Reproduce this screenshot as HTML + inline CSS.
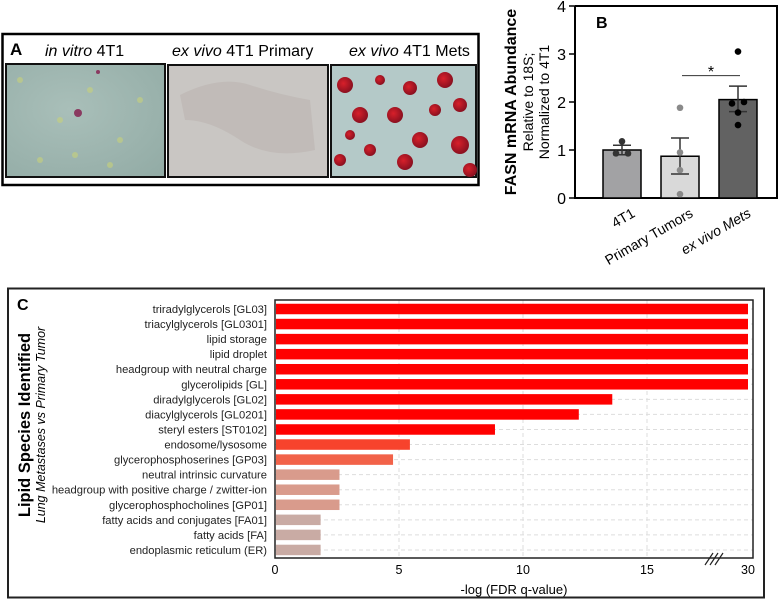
<!DOCTYPE html>
<html><head><meta charset="utf-8"><style>
body{margin:0;width:778px;height:608px;background:#fff;font-family:"Liberation Sans",sans-serif;overflow:hidden;position:relative}
</style></head><body>
<svg width="778" height="608" style="position:absolute;left:0;top:0" font-family="Liberation Sans, sans-serif">
<!-- Panel A -->
<g>
<rect x="2.5" y="34" width="476" height="151" fill="none" stroke="#000" stroke-width="2.5"/>
<text x="10" y="55" font-size="17" font-weight="bold">A</text>
<text x="45" y="56" font-size="16"><tspan font-style="italic">in vitro</tspan> 4T1</text>
<text x="172" y="56" font-size="16"><tspan font-style="italic">ex vivo</tspan> 4T1 Primary</text>
<text x="349" y="56" font-size="16"><tspan font-style="italic">ex vivo</tspan> 4T1 Mets</text>
<defs>
<radialGradient id="g1" cx="0.4" cy="0.4" r="0.8"><stop offset="0" stop-color="#a9bfb9"/><stop offset="1" stop-color="#93aca6"/></radialGradient>
<radialGradient id="cell" cx="0.4" cy="0.4" r="0.6"><stop offset="0" stop-color="#d8202a"/><stop offset="1" stop-color="#8a1020"/></radialGradient>
</defs>
<rect x="6" y="64" width="159" height="113" fill="url(#g1)" stroke="#111" stroke-width="2"/>
<g fill="#c8d27a" opacity="0.6"><circle cx="20" cy="80" r="3"/><circle cx="60" cy="120" r="3"/><circle cx="90" cy="90" r="3"/><circle cx="120" cy="140" r="3"/><circle cx="40" cy="160" r="3"/><circle cx="140" cy="100" r="3"/><circle cx="110" cy="165" r="3"/><circle cx="75" cy="155" r="3"/></g>
<circle cx="78" cy="113" r="4" fill="#8a3a60"/><circle cx="98" cy="72" r="2" fill="#8a3a60"/>
<rect x="168" y="65" width="160" height="112" fill="#c9c6c3" stroke="#111" stroke-width="2"/>
<path d="M180 95 Q220 75 250 85 T310 100 L315 150 Q270 160 240 140 T185 120Z" fill="#bdb6b3" opacity="0.7"/>
<rect x="331" y="65" width="145" height="112" fill="#b4c9c8" stroke="#111" stroke-width="2"/>
<g fill="url(#cell)">
<circle cx="345" cy="85" r="8"/><circle cx="360" cy="115" r="8"/><circle cx="395" cy="115" r="8"/><circle cx="410" cy="88" r="7"/><circle cx="445" cy="80" r="8"/><circle cx="460" cy="105" r="7"/><circle cx="420" cy="140" r="8"/><circle cx="405" cy="162" r="8"/><circle cx="460" cy="145" r="9"/><circle cx="370" cy="150" r="6"/><circle cx="340" cy="160" r="6"/><circle cx="435" cy="110" r="6"/><circle cx="380" cy="80" r="5"/><circle cx="470" cy="170" r="7"/><circle cx="350" cy="135" r="5"/>
</g>
</g>
<!-- Panel B -->
<g id="panelB">
<text x="596" y="28" font-size="16" font-weight="bold">B</text>
<text transform="translate(516,102) rotate(-90)" text-anchor="middle" font-size="16" font-weight="bold">FASN mRNA Abundance</text>
<text transform="translate(533,102) rotate(-90)" text-anchor="middle" font-size="14">Relative to 18S;</text>
<text transform="translate(549,102) rotate(-90)" text-anchor="middle" font-size="14">Normalized to 4T1</text>
</g>
<!-- Panel C -->
<g id="panelC">
<rect x="8" y="288.5" width="756" height="309" fill="none" stroke="#222" stroke-width="2"/>
<text x="17" y="310" font-size="16" font-weight="bold">C</text>
<text transform="translate(30,425) rotate(-90)" text-anchor="middle" font-size="16.5" font-weight="bold">Lipid Species Identified</text>
<text transform="translate(45,425) rotate(-90)" text-anchor="middle" font-size="12.5" font-style="italic">Lung Metastases vs Primary Tumor</text>
<text x="514" y="594" text-anchor="middle" font-size="13">-log (FDR q-value)</text>
</g>
</svg>
<script>
const NS="http://www.w3.org/2000/svg";
function mk(p,t,a){const e=document.createElementNS(NS,t);for(const k in a)e.setAttribute(k,a[k]);p.appendChild(e);return e;}
// ---- Panel B data
const bGroups=["4T1","Primary Tumors","ex vivo Mets"];
const bMeans=[1.0,0.87,2.05];
const bErrHi=[1.1,1.25,2.33];
const bErrLo=[0.9,0.5,1.8];
const bPoints=[[1.18,0.93,0.93],[1.88,0.95,0.58,0.08],[3.05,2.0,1.97,1.78,1.52]];
const bTicks=[0,1,2,3,4];
const bFill=["#a2a2a4","#d9d9d9","#626262"];
const bDot=["#333","#8a8a8a","#000"];
const B=document.getElementById("panelB");
const by=v=>198-v*48;
const bx0=603,bw=38,bstep=58;
let ax=mk(B,"path",{d:"M575 6 V198 H777 V6 H575",fill:"none",stroke:"#000","stroke-width":2});


bTicks.forEach(t=>{
 let l=mk(B,"line",{x1:569,x2:575,y1:by(t),y2:by(t),stroke:"#000","stroke-width":1.5});
 
 
 let tx=mk(B,"text",{x:566,y:by(t)+6,"text-anchor":"end","font-size":16});tx.textContent=t;
 
 
});
bGroups.forEach((g,i)=>{
 const x=bx0+i*bstep;
 let r=mk(B,"rect",{x:x,y:by(bMeans[i]),width:bw,height:by(0)-by(bMeans[i]),fill:bFill[i],stroke:"#000","stroke-width":1.5});
 
 
 const cx=x+bw/2;
 let e=mk(B,"path",{d:`M${cx} ${by(bErrLo[i])}V${by(bErrHi[i])}M${cx-9} ${by(bErrHi[i])}H${cx+9}M${cx-9} ${by(bErrLo[i])}H${cx+9}`,stroke:"#333","stroke-width":1.5,fill:"none"});
 
 
 const n=bPoints[i].length;
 bPoints[i].forEach((v,j)=>{
  const off=n>=5?[0,6,-6,0,0][j]:(n==3?[0,-6,6][j]:0);
  let c=mk(B,"circle",{cx:cx+off,cy:by(v),r:3.3,fill:bDot[i]});
  
  
 });
 let t=mk(B,"text",{transform:`translate(${cx+14},${216}) rotate(-30)`,"text-anchor":"end","font-size":14,"font-style":i==2?"italic":"normal"});
 t.textContent=g;
 
 
});
let sl=mk(B,"line",{x1:682,x2:740,y1:by(2.55),y2:by(2.55),stroke:"#333","stroke-width":1});


let st=mk(B,"text",{x:711,y:by(2.6)+4,"text-anchor":"middle","font-size":16});st.textContent="*";


// ---- Panel C data
const cCats=["triradylglycerols [GL03]","triacylglycerols [GL0301]","lipid storage","lipid droplet","headgroup with neutral charge","glycerolipids [GL]","diradylglycerols [GL02]","diacylglycerols [GL0201]","steryl esters [ST0102]","endosome/lysosome","glycerophosphoserines [GP03]","neutral intrinsic curvature","headgroup with positive charge / zwitter-ion","glycerophosphocholines [GP01]","fatty acids and conjugates [FA01]","fatty acids [FA]","endoplasmic reticulum (ER)"];
const cVals=[30,30,30,30,30,30,13.6,12.25,8.87,5.44,4.76,2.6,2.6,2.6,1.84,1.84,1.84];
const cColors=["#ff0000","#ff0000","#ff0000","#ff0000","#ff0000","#ff0000","#ff0000","#ff0000","#ff0000","#f7432c","#f26249","#d99b8c","#d99b8c","#d99b8c","#c9aba4","#c9aba4","#c9aba4"];
const cTicks=[0,5,10,15,30];
const C=document.getElementById("panelC");
const cx=v=>v<=17?275+v*24.8:696.6+(v-17)*(748-696.6)/13;
const cy0=309,cstep=15.06,ch=10.5;
cCats.forEach((c,i)=>{
 let g=mk(C,"line",{x1:275,x2:753,y1:cy0+i*cstep,y2:cy0+i*cstep,stroke:"#ddd","stroke-dasharray":"4 3"});
 
 
});
[5,10,15].forEach(v=>{
 let g=mk(C,"line",{x1:cx(v),x2:cx(v),y1:300,y2:558,stroke:"#ddd","stroke-dasharray":"4 3"});
 
 
});
cCats.forEach((c,i)=>{
 const y=cy0+i*cstep;
 let r=mk(C,"rect",{x:276,y:y-ch/2,width:cx(cVals[i])-276,height:ch,fill:cColors[i]});
 
 
 let t=mk(C,"text",{x:267,y:y+4,"text-anchor":"end","font-size":11.2,fill:"#222"});t.textContent=c;
 
 
});
let fr=mk(C,"rect",{x:275,y:300,width:478,height:258,fill:"none",stroke:"#222","stroke-width":1.5});


cTicks.forEach(v=>{
 let t=mk(C,"text",{x:cx(v),y:574,"text-anchor":"middle","font-size":12.5});t.textContent=v;
 
 
});
let br=mk(C,"path",{d:"M705 565 L713 553 M710 565 L718 553 M715 565 L723 553",stroke:"#222","stroke-width":1.2});


</script>
</body></html>
